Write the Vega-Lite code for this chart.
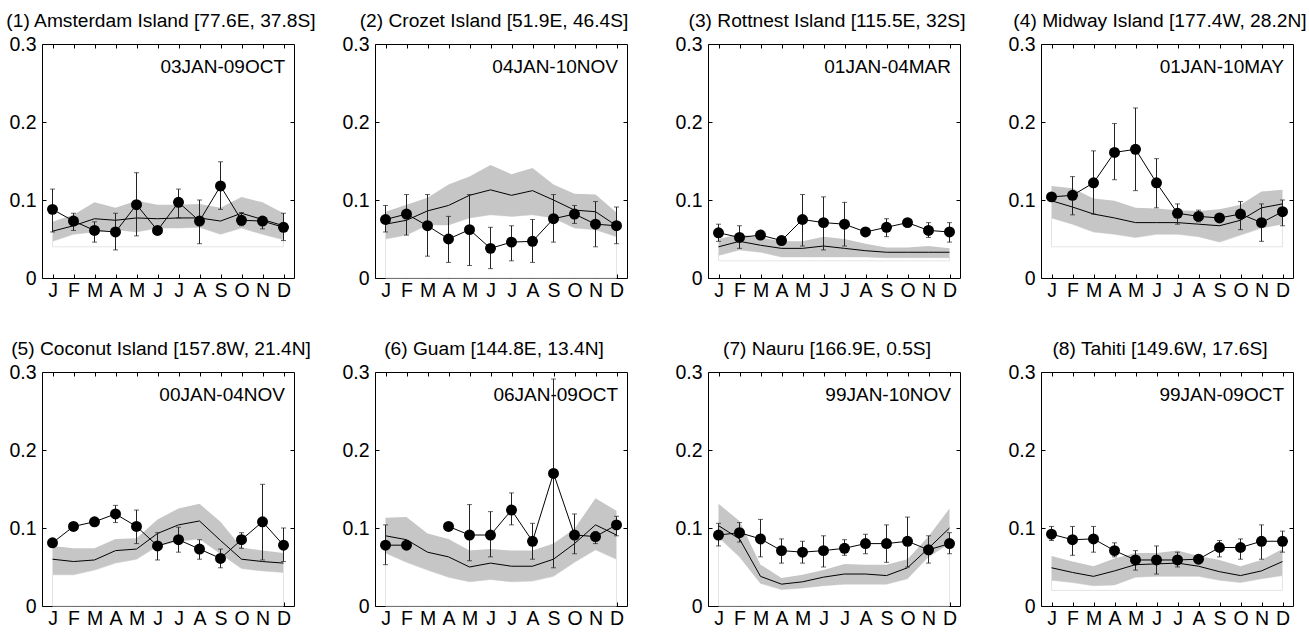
{
  "$schema": "https://vega.github.io/schema/vega-lite/v6.json",
  "padding": {"left": 5, "top": 10, "right": 5, "bottom": 5},
  "bounds": "flush",
  "datasets": {
    "sites": [
      {"k": 1, "s": "(1) Amsterdam Island [77.6E, 37.8S]", "p": "03JAN-09OCT", "b": 0.04},
      {"k": 2, "s": "(2) Crozet Island [51.9E, 46.4S]", "p": "04JAN-10NOV", "b": 0},
      {"k": 3, "s": "(3) Rottnest Island [115.5E, 32S]", "p": "01JAN-04MAR", "b": 0.022},
      {"k": 4, "s": "(4) Midway Island [177.4W, 28.2N]", "p": "01JAN-10MAY", "b": 0.04},
      {"k": 5, "s": "(5) Coconut Island [157.8W, 21.4N]", "p": "00JAN-04NOV", "b": 0},
      {"k": 6, "s": "(6) Guam [144.8E, 13.4N]", "p": "06JAN-09OCT", "b": 0},
      {"k": 7, "s": "(7) Nauru [166.9E, 0.5S]", "p": "99JAN-10NOV", "b": 0},
      {"k": 8, "s": "(8) Tahiti [149.6W, 17.6S]", "p": "99JAN-09OCT", "b": 0.02}
    ],
    "monthly": [
      {"k":1,"m":1,"o":0.088,"lo":0.059,"hi":0.114,"md":0.060,"bl":0.047,"bh":0.072},
      {"k":1,"m":2,"o":0.073,"lo":0.061,"hi":0.083,"md":0.067,"bl":0.056,"bh":0.081},
      {"k":1,"m":3,"o":0.061,"lo":0.046,"hi":0.072,"md":0.076,"bl":0.059,"bh":0.097},
      {"k":1,"m":4,"o":0.059,"lo":0.036,"hi":0.083,"md":0.074,"bl":0.062,"bh":0.090},
      {"k":1,"m":5,"o":0.094,"lo":0.054,"hi":0.135,"md":0.077,"bl":0.059,"bh":0.099},
      {"k":1,"m":6,"o":0.061,"lo":null,"hi":null,"md":0.076,"bl":0.064,"bh":0.094},
      {"k":1,"m":7,"o":0.097,"lo":0.077,"hi":0.114,"md":0.077,"bl":0.064,"bh":0.094},
      {"k":1,"m":8,"o":0.073,"lo":0.044,"hi":0.100,"md":0.077,"bl":0.065,"bh":0.095},
      {"k":1,"m":9,"o":0.118,"lo":0.088,"hi":0.149,"md":0.073,"bl":0.056,"bh":0.090},
      {"k":1,"m":10,"o":0.074,"lo":0.067,"hi":0.084,"md":0.083,"bl":0.064,"bh":0.104},
      {"k":1,"m":11,"o":0.073,"lo":0.063,"hi":0.076,"md":0.075,"bl":0.056,"bh":0.097},
      {"k":1,"m":12,"o":0.065,"lo":0.048,"hi":0.083,"md":0.067,"bl":0.049,"bh":0.083},

      {"k":2,"m":1,"o":0.075,"lo":0.059,"hi":0.093,"md":0.069,"bl":0.050,"bh":0.085},
      {"k":2,"m":2,"o":0.082,"lo":0.055,"hi":0.107,"md":0.074,"bl":0.055,"bh":0.094},
      {"k":2,"m":3,"o":0.067,"lo":0.028,"hi":0.107,"md":0.086,"bl":0.068,"bh":0.103},
      {"k":2,"m":4,"o":0.050,"lo":0.020,"hi":0.079,"md":0.093,"bl":0.068,"bh":0.120},
      {"k":2,"m":5,"o":0.062,"lo":0.016,"hi":0.107,"md":0.106,"bl":0.077,"bh":0.130},
      {"k":2,"m":6,"o":0.038,"lo":0.012,"hi":0.065,"md":0.113,"bl":0.081,"bh":0.145},
      {"k":2,"m":7,"o":0.046,"lo":0.022,"hi":0.067,"md":0.106,"bl":0.079,"bh":0.133},
      {"k":2,"m":8,"o":0.047,"lo":0.020,"hi":0.075,"md":0.112,"bl":0.081,"bh":0.141},
      {"k":2,"m":9,"o":0.076,"lo":0.046,"hi":0.107,"md":0.100,"bl":0.077,"bh":0.120},
      {"k":2,"m":10,"o":0.082,"lo":0.070,"hi":0.093,"md":0.087,"bl":0.064,"bh":0.108},
      {"k":2,"m":11,"o":0.069,"lo":0.040,"hi":0.098,"md":0.085,"bl":0.062,"bh":0.107},
      {"k":2,"m":12,"o":0.067,"lo":0.044,"hi":0.091,"md":0.067,"bl":0.053,"bh":0.084},

      {"k":3,"m":1,"o":0.058,"lo":0.047,"hi":0.069,"md":0.040,"bl":0.029,"bh":0.050},
      {"k":3,"m":2,"o":0.052,"lo":0.038,"hi":0.067,"md":0.047,"bl":0.036,"bh":0.056},
      {"k":3,"m":3,"o":0.055,"lo":null,"hi":null,"md":0.042,"bl":0.033,"bh":0.052},
      {"k":3,"m":4,"o":0.048,"lo":null,"hi":null,"md":0.038,"bl":0.027,"bh":0.047},
      {"k":3,"m":5,"o":0.075,"lo":0.041,"hi":0.107,"md":0.038,"bl":0.027,"bh":0.047},
      {"k":3,"m":6,"o":0.071,"lo":0.036,"hi":0.104,"md":0.041,"bl":0.027,"bh":0.053},
      {"k":3,"m":7,"o":0.069,"lo":0.041,"hi":0.097,"md":0.038,"bl":0.027,"bh":0.050},
      {"k":3,"m":8,"o":0.059,"lo":null,"hi":null,"md":0.035,"bl":0.027,"bh":0.044},
      {"k":3,"m":9,"o":0.065,"lo":0.053,"hi":0.076,"md":0.033,"bl":0.026,"bh":0.039},
      {"k":3,"m":10,"o":0.071,"lo":null,"hi":null,"md":0.033,"bl":0.026,"bh":0.039},
      {"k":3,"m":11,"o":0.061,"lo":0.052,"hi":0.071,"md":0.033,"bl":0.026,"bh":0.041},
      {"k":3,"m":12,"o":0.059,"lo":0.046,"hi":0.071,"md":0.033,"bl":0.026,"bh":0.038},

      {"k":4,"m":1,"o":0.104,"lo":null,"hi":null,"md":0.099,"bl":0.077,"bh":0.118},
      {"k":4,"m":2,"o":0.106,"lo":0.081,"hi":0.130,"md":0.091,"bl":0.069,"bh":0.115},
      {"k":4,"m":3,"o":0.122,"lo":0.082,"hi":0.163,"md":0.082,"bl":0.059,"bh":0.102},
      {"k":4,"m":4,"o":0.161,"lo":0.126,"hi":0.198,"md":0.077,"bl":0.056,"bh":0.099},
      {"k":4,"m":5,"o":0.165,"lo":0.112,"hi":0.218,"md":0.071,"bl":0.052,"bh":0.090},
      {"k":4,"m":6,"o":0.122,"lo":0.090,"hi":0.153,"md":0.071,"bl":0.056,"bh":0.089},
      {"k":4,"m":7,"o":0.083,"lo":0.069,"hi":0.095,"md":0.071,"bl":0.056,"bh":0.087},
      {"k":4,"m":8,"o":0.079,"lo":0.072,"hi":0.087,"md":0.069,"bl":0.053,"bh":0.086},
      {"k":4,"m":9,"o":0.077,"lo":null,"hi":null,"md":0.067,"bl":0.046,"bh":0.088},
      {"k":4,"m":10,"o":0.082,"lo":0.062,"hi":0.098,"md":0.074,"bl":0.055,"bh":0.094},
      {"k":4,"m":11,"o":0.071,"lo":0.047,"hi":0.095,"md":0.090,"bl":0.064,"bh":0.111},
      {"k":4,"m":12,"o":0.085,"lo":0.067,"hi":0.100,"md":0.095,"bl":0.069,"bh":0.113},

      {"k":5,"m":1,"o":0.081,"lo":null,"hi":null,"md":0.060,"bl":0.040,"bh":0.077},
      {"k":5,"m":2,"o":0.102,"lo":null,"hi":null,"md":0.057,"bl":0.040,"bh":0.074},
      {"k":5,"m":3,"o":0.108,"lo":null,"hi":null,"md":0.059,"bl":0.046,"bh":0.074},
      {"k":5,"m":4,"o":0.118,"lo":0.107,"hi":0.129,"md":0.071,"bl":0.055,"bh":0.086},
      {"k":5,"m":5,"o":0.102,"lo":0.080,"hi":0.123,"md":0.073,"bl":0.060,"bh":0.087},
      {"k":5,"m":6,"o":0.077,"lo":0.059,"hi":0.094,"md":0.093,"bl":0.077,"bh":0.111},
      {"k":5,"m":7,"o":0.085,"lo":0.069,"hi":0.101,"md":0.104,"bl":0.083,"bh":0.125},
      {"k":5,"m":8,"o":0.073,"lo":0.060,"hi":0.085,"md":0.109,"bl":0.086,"bh":0.131},
      {"k":5,"m":9,"o":0.061,"lo":0.049,"hi":0.073,"md":0.084,"bl":0.067,"bh":0.108},
      {"k":5,"m":10,"o":0.085,"lo":0.074,"hi":0.094,"md":0.060,"bl":0.048,"bh":0.075},
      {"k":5,"m":11,"o":0.108,"lo":0.059,"hi":0.156,"md":0.057,"bl":0.045,"bh":0.071},
      {"k":5,"m":12,"o":0.078,"lo":0.057,"hi":0.100,"md":0.055,"bl":0.043,"bh":0.068},

      {"k":6,"m":1,"o":0.078,"lo":0.053,"hi":0.104,"md":0.090,"bl":0.068,"bh":0.113},
      {"k":6,"m":2,"o":0.078,"lo":null,"hi":null,"md":0.085,"bl":0.056,"bh":0.114},
      {"k":6,"m":3,"o":null,"lo":null,"hi":null,"md":0.069,"bl":0.046,"bh":0.093},
      {"k":6,"m":4,"o":0.102,"lo":null,"hi":null,"md":0.063,"bl":0.037,"bh":0.086},
      {"k":6,"m":5,"o":0.091,"lo":0.058,"hi":0.130,"md":0.050,"bl":0.031,"bh":0.071},
      {"k":6,"m":6,"o":0.091,"lo":0.063,"hi":0.121,"md":0.055,"bl":0.034,"bh":0.073},
      {"k":6,"m":7,"o":0.123,"lo":0.104,"hi":0.145,"md":0.051,"bl":0.031,"bh":0.071},
      {"k":6,"m":8,"o":0.083,"lo":0.060,"hi":0.106,"md":0.051,"bl":0.032,"bh":0.071},
      {"k":6,"m":9,"o":0.170,"lo":0.049,"hi":0.291,"md":0.060,"bl":0.038,"bh":0.080},
      {"k":6,"m":10,"o":0.091,"lo":0.067,"hi":0.118,"md":0.080,"bl":0.056,"bh":0.099},
      {"k":6,"m":11,"o":0.089,"lo":0.080,"hi":0.095,"md":0.104,"bl":0.072,"bh":0.138},
      {"k":6,"m":12,"o":0.104,"lo":0.090,"hi":0.115,"md":0.091,"bl":0.060,"bh":0.122},

      {"k":7,"m":1,"o":0.091,"lo":0.077,"hi":0.106,"md":0.103,"bl":0.088,"bh":0.131},
      {"k":7,"m":2,"o":0.094,"lo":0.082,"hi":0.107,"md":0.086,"bl":0.063,"bh":0.109},
      {"k":7,"m":3,"o":0.086,"lo":0.063,"hi":0.111,"md":0.038,"bl":0.029,"bh":0.053},
      {"k":7,"m":4,"o":0.071,"lo":0.055,"hi":0.086,"md":0.028,"bl":0.021,"bh":0.036},
      {"k":7,"m":5,"o":0.069,"lo":0.055,"hi":0.083,"md":0.031,"bl":0.023,"bh":0.040},
      {"k":7,"m":6,"o":0.071,"lo":0.050,"hi":0.090,"md":0.037,"bl":0.026,"bh":0.046},
      {"k":7,"m":7,"o":0.074,"lo":0.065,"hi":0.085,"md":0.041,"bl":0.028,"bh":0.054},
      {"k":7,"m":8,"o":0.080,"lo":0.067,"hi":0.092,"md":0.041,"bl":0.028,"bh":0.053},
      {"k":7,"m":9,"o":0.080,"lo":0.056,"hi":0.104,"md":0.039,"bl":0.028,"bh":0.053},
      {"k":7,"m":10,"o":0.083,"lo":0.050,"hi":0.114,"md":0.049,"bl":0.035,"bh":0.060},
      {"k":7,"m":11,"o":0.072,"lo":0.055,"hi":0.090,"md":0.074,"bl":0.063,"bh":0.089},
      {"k":7,"m":12,"o":0.080,"lo":0.067,"hi":0.094,"md":0.100,"bl":0.080,"bh":0.125},

      {"k":8,"m":1,"o":0.092,"lo":0.084,"hi":0.102,"md":0.049,"bl":0.033,"bh":0.064},
      {"k":8,"m":2,"o":0.085,"lo":0.065,"hi":0.102,"md":0.043,"bl":0.030,"bh":0.057},
      {"k":8,"m":3,"o":0.086,"lo":0.069,"hi":0.102,"md":0.038,"bl":0.026,"bh":0.051},
      {"k":8,"m":4,"o":0.071,"lo":0.063,"hi":0.081,"md":0.045,"bl":0.027,"bh":0.061},
      {"k":8,"m":5,"o":0.059,"lo":0.046,"hi":0.071,"md":0.053,"bl":0.037,"bh":0.068},
      {"k":8,"m":6,"o":0.059,"lo":0.041,"hi":0.077,"md":0.054,"bl":0.038,"bh":0.068},
      {"k":8,"m":7,"o":0.059,"lo":0.050,"hi":0.069,"md":0.055,"bl":0.038,"bh":0.071},
      {"k":8,"m":8,"o":0.060,"lo":null,"hi":null,"md":0.051,"bl":0.038,"bh":0.064},
      {"k":8,"m":9,"o":0.075,"lo":0.063,"hi":0.084,"md":0.044,"bl":0.033,"bh":0.059},
      {"k":8,"m":10,"o":0.075,"lo":0.060,"hi":0.086,"md":0.039,"bl":0.030,"bh":0.051},
      {"k":8,"m":11,"o":0.083,"lo":0.060,"hi":0.104,"md":0.045,"bl":0.035,"bh":0.059},
      {"k":8,"m":12,"o":0.083,"lo":0.069,"hi":0.096,"md":0.057,"bl":0.039,"bh":0.073}
    ]
  },
  "data": {"name": "monthly"},
  "transform": [
    {"lookup": "k", "from": {"data": {"name": "sites"}, "key": "k", "fields": ["s", "p", "b"]}}
  ],
  "facet": {
    "field": "s",
    "type": "nominal",
    "title": null,
    "header": {"labelExpr": "''", "labelPadding": 0, "labelFontSize": 1, "title": null}
  },
  "columns": 4,
  "spacing": {"column": 81, "row": 94},
  "resolve": {"axis": {"x": "independent", "y": "independent"}},
  "spec": {
    "width": 252,
    "height": 234,
    "resolve": {"axis": {"x": "independent", "y": "independent"}},
    "layer": [
      {
        "mark": {"type": "area", "fill": "white", "stroke": "#e4e4e4", "strokeWidth": 1},
        "encoding": {
          "x": {
            "field": "m", "type": "quantitative",
            "scale": {"domain": [0.5, 12.5], "nice": false, "zero": false},
            "axis": {
              "orient": "bottom", "title": null,
              "values": [1, 2, 3, 4, 5, 6, 7, 8, 9, 10, 11, 12],
              "labelExpr": "['J','F','M','A','M','J','J','A','S','O','N','D'][datum.value - 1]",
              "labelPadding": 7
            }
          },
          "y": {
            "field": "b", "type": "quantitative",
            "scale": {"domain": [0, 0.3], "nice": false},
            "axis": {
              "orient": "left", "title": null,
              "values": [0, 0.1, 0.2, 0.3], "format": "~g",
              "labelPadding": 10
            }
          },
          "y2": {"field": "bl"}
        }
      },
      {
        "mark": {"type": "area", "color": "#c6c6c6"},
        "encoding": {
          "x": {
            "field": "m", "type": "quantitative",
            "axis": {"orient": "top", "title": null, "labels": false, "values": [1, 2, 3, 4, 5, 6, 7, 8, 9, 10, 11, 12]}
          },
          "y": {
            "field": "bl", "type": "quantitative",
            "axis": {"orient": "right", "title": null, "labels": false, "values": [0.1, 0.2]}
          },
          "y2": {"field": "bh"}
        }
      },
      {
        "mark": {"type": "line", "color": "black", "strokeWidth": 1},
        "encoding": {
          "x": {"field": "m", "type": "quantitative", "axis": null},
          "y": {"field": "md", "type": "quantitative", "axis": null}
        }
      },
      {
        "mark": {"type": "rule", "color": "#222222", "strokeWidth": 1},
        "encoding": {
          "x": {"field": "m", "type": "quantitative", "axis": null},
          "y": {"field": "lo", "type": "quantitative", "axis": null},
          "y2": {"field": "hi"}
        }
      },
      {
        "mark": {"type": "tick", "orient": "horizontal", "color": "#222222", "size": 5, "thickness": 1},
        "encoding": {
          "x": {"field": "m", "type": "quantitative", "axis": null},
          "y": {"field": "lo", "type": "quantitative", "axis": null}
        }
      },
      {
        "mark": {"type": "tick", "orient": "horizontal", "color": "#222222", "size": 5, "thickness": 1},
        "encoding": {
          "x": {"field": "m", "type": "quantitative", "axis": null},
          "y": {"field": "hi", "type": "quantitative", "axis": null}
        }
      },
      {
        "mark": {"type": "line", "color": "black", "strokeWidth": 1},
        "encoding": {
          "x": {"field": "m", "type": "quantitative", "axis": null},
          "y": {"field": "o", "type": "quantitative", "axis": null}
        }
      },
      {
        "mark": {"type": "circle", "color": "black", "size": 120, "opacity": 1},
        "encoding": {
          "x": {"field": "m", "type": "quantitative", "axis": null},
          "y": {"field": "o", "type": "quantitative", "axis": null}
        }
      },
      {
        "transform": [{"filter": "datum.m == 1"}],
        "mark": {"type": "text", "align": "right", "baseline": "alphabetic", "dx": -9, "dy": 29, "font": "Liberation Sans", "fontSize": 19, "color": "black"},
        "encoding": {
          "x": {"datum": 12.5, "type": "quantitative", "axis": null},
          "y": {"datum": 0.3, "type": "quantitative", "axis": null},
          "text": {"field": "p"}
        }
      },
      {
        "transform": [{"filter": "datum.m == 1"}],
        "mark": {"type": "text", "align": "center", "baseline": "alphabetic", "dx": -7, "dy": -17, "font": "Liberation Sans", "fontSize": 19.2, "color": "black"},
        "encoding": {
          "x": {"datum": 6.5, "type": "quantitative", "axis": null},
          "y": {"datum": 0.3, "type": "quantitative", "axis": null},
          "text": {"field": "s"}
        }
      }
    ]
  },
  "config": {
    "font": "Liberation Sans",
    "view": {"stroke": "black", "strokeWidth": 1},
    "axis": {
      "domain": false,
      "grid": false,
      "ticks": true,
      "tickColor": "black",
      "tickSize": -4,
      "labelFont": "Liberation Sans",
      "labelFontSize": 19.5,
      "labelColor": "black"
    }
  }
}
